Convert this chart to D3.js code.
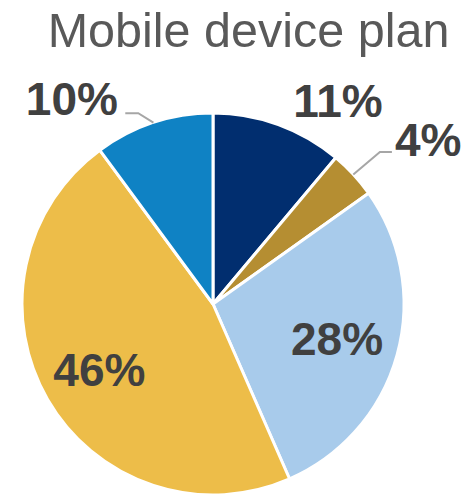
<!DOCTYPE html>
<html>
<head>
<meta charset="utf-8">
<script src="https://cdn.jsdelivr.net/npm/d3@7"></script>
<style>
  html, body { margin: 0; padding: 0; background: #fff; }
  svg { display: block; }
</style>
</head>
<body>
<svg id="chart" width="467" height="496"></svg>
<script>
// Mobile device plan share, clockwise from 12 o'clock
const categories = ["Plan A", "Plan B", "Plan C", "Plan D", "Plan E"];
const values = [11, 4, 28, 46, 10];
const labels = ["11%", "4%", "28%", "46%", "10%"];
const colors = ["#012E6F", "#B58E32", "#A8CBEB", "#EDBD49", "#0F82C4"];

// Label placement: angle nudge (degrees from slice middle) and radius factor;
// leaders bend at an elbow (angle nudge, radius factor) then run horizontally
const labelLayout = [
  { dAngle: 11.5, rf: 1.252, leader: null },
  { dAngle: 5.3, rf: 1.419, leader: { dAngle: 0.4, rf: 1.182, dx: 12 } },
  { dAngle: 0, rf: 0.674, leader: null },
  { dAngle: 0, rf: 0.687, leader: null },
  { dAngle: -16.3, rf: 1.305, leader: { dAngle: -3.2, rf: 1.073, dx: -13 } }
];

const W = 467, H = 496;
const cx = 213, cy = 304, R = 191;
const fontLabel = 46;

const svg = d3.select("#chart");

svg.append("text")
  .attr("x", 248.5)
  .attr("y", 47)
  .attr("text-anchor", "middle")
  .attr("font-family", "'Liberation Sans', Arial, sans-serif")
  .attr("font-size", 48.5)
  .attr("fill", "#595959")
  .text("Mobile device plan");

const pie = d3.pie().sort(null).value(d => d)(values);
const arc = d3.arc().innerRadius(0).outerRadius(R);

const g = svg.append("g").attr("transform", `translate(${cx},${cy})`);

g.selectAll("path.slice")
  .data(pie)
  .join("path")
  .attr("class", "slice")
  .attr("d", arc)
  .attr("fill", (d, i) => colors[i])
  .attr("stroke", "#fff")
  .attr("stroke-width", 3)
  .attr("stroke-linejoin", "round");

const deg = Math.PI / 180;
function polar(angle, r) {
  return [Math.sin(angle) * r, -Math.cos(angle) * r];
}

pie.forEach((d, i) => {
  const L = labelLayout[i];
  const mid = (d.startAngle + d.endAngle) / 2;
  if (L.leader) {
    const p0 = polar(mid, R);
    const p1 = polar(mid + L.leader.dAngle * deg, R * L.leader.rf);
    const p2 = [p1[0] + L.leader.dx, p1[1]];
    g.append("polyline")
      .attr("points", [p0, p1, p2].map(p => p.join(",")).join(" "))
      .attr("fill", "none")
      .attr("stroke", "#A6A6A6")
      .attr("stroke-width", 2);
  }
  const pos = polar(mid + L.dAngle * deg, R * L.rf);
  g.append("text")
    .attr("x", pos[0])
    .attr("y", pos[1] + fontLabel * 0.36)
    .attr("text-anchor", "middle")
    .attr("font-family", "'Liberation Sans', Arial, sans-serif")
    .attr("font-weight", "bold")
    .attr("font-size", fontLabel)
    .attr("fill", "#404040")
    .text(labels[i]);
});
</script>
</body>
</html>
